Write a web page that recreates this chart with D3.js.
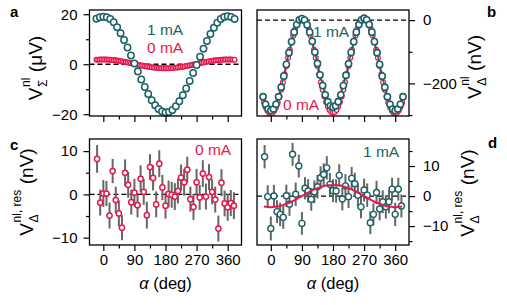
<!DOCTYPE html>
<html>
<head>
<meta charset="utf-8">
<script src="https://cdn.jsdelivr.net/npm/d3@7"></script>
<style>
body { margin: 0; background: #fff; }
text { font-family: "Liberation Sans", Arial, sans-serif; }
</style>
</head>
<body>
<svg id="canvas" width="507" height="305"></svg>
<script>
var teal = '#1b6167', red = '#e8184c', grey = '#666666';

// measurement angle grids (deg)
var angA1 = d3.range(-20, 381, 10);
var angA0 = d3.range(-20, 381, 5);
var angB1 = d3.range(-22.5, 383, 7.5);
var angB0 = d3.range(-20, 381, 5);
var angRes = d3.range(-18, 379, 9);
var angFit = d3.range(-20, 381, 10);

// a: V_sigma (uV)
var sigma1mA = [18.2, 18.8, 19.0, 18.8, 18.1, 16.8, 14.8, 12.4, 9.7, 6.7, 3.5, 0.3, -2.9, -6.1, -9.1, -11.9, -14.4, -16.4, -17.9, -18.9, -19.3,
    -19.1, -18.3, -16.8, -14.8, -12.4, -9.7, -6.7, -3.5, -0.3, 3.0, 6.2, 9.3, 12.1, 14.6, 16.6, 18.1, 18.9, 19.2, 18.9, 18.1];
var sigma0mA = [1.8, 1.85, 1.9, 1.9, 1.92, 1.9, 1.88, 1.84, 1.78, 1.72, 1.66, 1.58, 1.48, 1.38, 1.27, 1.14, 1.02, 0.88, 0.74, 0.6,
    0.45, 0.3, 0.14, 0.0, -0.15, -0.3, -0.45, -0.58, -0.72, -0.85, -0.97, -1.08, -1.18, -1.28, -1.36, -1.43, -1.49, -1.54, -1.57, -1.59, -1.6,
    -1.59, -1.57, -1.54, -1.49, -1.43, -1.36, -1.28, -1.18, -1.08, -0.97, -0.85, -0.72, -0.58, -0.45, -0.3, -0.15, 0.0, 0.14, 0.3,
    0.45, 0.6, 0.74, 0.88, 1.02, 1.14, 1.27, 1.38, 1.48, 1.58, 1.66, 1.72, 1.78, 1.84, 1.88, 1.9, 1.92, 1.9, 1.88, 1.84, 1.8];

// b: V_delta (nV)
var delta1mA = [-242, -266, -281, -286, -281, -266, -242, -212, -177, -140, -103, -68, -38, -14, 1, 5,
    0, -15, -38, -67, -101, -137, -173, -207, -236, -258, -271, -275,
    -271, -258, -236, -207, -174, -138, -102, -68, -38, -14, 1, 6,
    1, -14, -38, -68, -103, -140, -177, -212, -242, -266, -281, -286,
    -281, -266, -242];
var delta0mA = [-260, -275, -286, -293, -295, -293, -286, -275, -260, -241, -220, -196, -171, -145, -119, -94, -70, -49, -30, -15, -4, 3, 5,
    3, -4, -15, -30, -49, -70, -94, -119, -145, -171, -196, -220, -241, -259, -273, -284, -290, -292,
    -290, -284, -273, -259, -241, -220, -196, -171, -145, -119, -94, -70, -49, -30, -15, -4, 3, 5,
    3, -4, -15, -30, -49, -70, -94, -119, -145, -171, -196, -220, -241, -260, -275, -286, -293, -295,
    -293, -286, -275, -260];

// c: residual 0 mA (nV)
var res0mA = [8.2, -1.9, 0.2, 0.2, -4.9, 5.4, -1.3, -4.4, -7.7, 5.0, 2.2, -1.8, 0.4, -2.5, 3.6, 0.6, -4.8, 6.3, 3.8, -2.3,
    7.1, 1.6, -2.6, 0.1, -0.1, -0.5, 0.8, 3.9, 2.8, 5.7, -1.1, -2.9, 2.8, -0.7, 4.8, -0.5, 4.0, 0.6, -1.2, -7.9,
    2.7, -2.1, -3.0, -2.0, -2.6];
var err0mA = [3.2, 3.0, 3.1, 2.9, 3.0, 2.8, 3.1, 3.0, 2.9, 3.1, 3.0, 2.9, 3.2, 2.8, 3.1, 3.0, 3.1, 3.0, 2.9, 3.0,
    3.1, 2.9, 3.0, 3.1, 3.0, 3.1, 2.9, 3.0, 3.1, 3.0, 2.9, 3.0, 3.1, 2.9, 3.1, 3.0, 3.0, 2.9, 3.0, 3.0,
    3.1, 3.0, 3.1, 3.0, 3.1];

// d: residual 1 mA (nV) + fit
var res1mA = [13.1, -0.2, -10.8, 0.0, -5.2, -6.1, -7.1, 0.1, -2.7, 13.9, 0.6, 10.0, -9.1, 2.6, 1.7, -1.1, 1.4, 3.1, 6.1, 7.2,
    9.4, 3.9, 1.8, 1.7, 6.9, -1.0, 3.4, -0.2, 5.9, 4.1, 0.3, -3.6, 2.0, 0.3, -8.9, -6.1, 1.2, -4.3, -1.9, -3.6,
    -1.9, 2.3, -6.1, 2.3, -3.3];
var err1mA = [3.9, 3.8, 4.0, 3.7, 3.8, 3.9, 3.8, 3.7, 3.9, 3.8, 3.9, 3.8, 3.8, 3.7, 3.9, 3.8, 3.8, 3.9, 3.8, 3.7,
    3.9, 3.8, 3.8, 3.9, 3.7, 3.8, 3.9, 3.8, 3.8, 3.7, 3.9, 3.8, 3.8, 3.9, 3.8, 3.7, 3.9, 3.8, 3.8, 3.9,
    3.8, 3.8, 3.9, 3.8, 3.8];
var fit1mA = [-3.5, -3.6, -3.7, -3.6, -3.5, -3.2, -2.8, -2.4, -1.9, -1.3, -0.6, 0.0, 0.6, 1.3, 1.9, 2.4, 2.8, 3.2, 3.5, 3.6, 3.7,
    3.6, 3.5, 3.2, 2.8, 2.4, 1.9, 1.3, 0.6, 0.0, -0.6, -1.3, -1.9, -2.4, -2.8, -3.2, -3.5, -3.6, -3.7, -3.6, -3.5];

var xMajor = [0, 90, 180, 270, 360];
var xMinor = [45, 135, 225, 315];

var svg = d3.select('#canvas');
var W = 152, H = 106;

function panel(left, top, ydom) {
    var g = svg.append('g').attr('transform', 'translate(' + left + ',' + top + ')');
    return {
        g: g,
        x: d3.scaleLinear().domain([-40, 400]).range([0, W]),
        y: d3.scaleLinear().domain(ydom).range([H, 0])
    };
}

function styleAxis(sel) {
    sel.select('.domain').remove();
    sel.selectAll('line').attr('stroke', '#000').attr('stroke-width', 1.2);
    sel.selectAll('text').attr('font-size', '15px').attr('fill', '#000')
        .attr('font-family', '"Liberation Sans", Arial, sans-serif');
}

function axes(p, showX, side, yMajor, yMinor) {
    p.g.append('g').attr('transform', 'translate(0,' + H + ')')
        .call(d3.axisBottom(p.x).tickValues(xMajor).tickSize(6).tickPadding(3)
            .tickFormat(showX ? d3.format('d') : ''))
        .call(styleAxis);
    p.g.append('g').attr('transform', 'translate(0,' + H + ')')
        .call(d3.axisBottom(p.x).tickValues(xMinor).tickSize(3.5).tickFormat(''))
        .call(styleAxis);
    var ax = side == 'left' ? d3.axisLeft : d3.axisRight;
    var tx = side == 'left' ? 0 : W;
    p.g.append('g').attr('transform', 'translate(' + tx + ',0)')
        .call(ax(p.y).tickValues(yMajor).tickSize(6).tickPadding(side == 'left' ? 6 : 8).tickFormat(d3.format('d')))
        .call(styleAxis);
    p.g.append('g').attr('transform', 'translate(' + tx + ',0)')
        .call(ax(p.y).tickValues(yMinor).tickSize(3.5).tickFormat(''))
        .call(styleAxis);
    p.g.append('rect').attr('width', W).attr('height', H)
        .attr('fill', 'none').attr('stroke', '#000').attr('stroke-width', 1.3);
}

function zeroLine(p) {
    p.g.append('line')
        .attr('x1', 0).attr('x2', W)
        .attr('y1', p.y(0)).attr('y2', p.y(0))
        .attr('stroke', '#000').attr('stroke-width', 1.3)
        .attr('stroke-dasharray', '5,3');
}

function dots(p, ang, vals, color, r, sw) {
    p.g.append('g').selectAll('circle')
        .data(vals)
        .enter()
        .append('circle')
        .attr('cx', function(d, i) { return p.x(ang[i]); })
        .attr('cy', function(d) { return p.y(d); })
        .attr('r', r)
        .attr('fill', '#fff')
        .attr('stroke', color)
        .attr('stroke-width', sw);
}

function errBars(p, ang, vals, errs) {
    p.g.append('g').selectAll('line')
        .data(vals)
        .enter()
        .append('line')
        .attr('x1', function(d, i) { return p.x(ang[i]); })
        .attr('x2', function(d, i) { return p.x(ang[i]); })
        .attr('y1', function(d, i) { return p.y(d - errs[i]); })
        .attr('y2', function(d, i) { return p.y(d + errs[i]); })
        .attr('stroke', grey)
        .attr('stroke-width', 2);
}

function curve(p, ang, vals, color, sw, kind) {
    var line = d3.line()
        .x(function(d, i) { return p.x(ang[i]); })
        .y(function(d) { return p.y(d); })
        .curve(kind || d3.curveLinear);
    p.g.append('path').datum(vals)
        .attr('d', line)
        .attr('fill', 'none')
        .attr('stroke', color)
        .attr('stroke-width', sw);
}

function label(x, y, txt, color, size, weight) {
    svg.append('text').attr('x', x).attr('y', y)
        .attr('fill', color).attr('font-size', size + 'px')
        .attr('font-weight', weight || 'normal')
        .text(txt);
}

function yLabel(x, y, sup, sub, unit) {
    var g = svg.append('g').attr('transform', 'translate(' + x + ',' + y + ') rotate(-90)');
    var inner = g.append('g');
    var v = inner.append('text').attr('font-size', '19px').text('V');
    var wv = v.node().getComputedTextLength();
    var s1 = inner.append('text').attr('x', wv + 0.5).attr('y', -12.5).attr('font-size', '12px').text(sup);
    var s2 = inner.append('text').attr('x', wv + 0.5).attr('y', 4.5).attr('font-size', '12px').text(sub);
    var ws = Math.max(s1.node().getComputedTextLength(), s2.node().getComputedTextLength());
    var u = inner.append('text').attr('x', wv + ws + 6).attr('font-size', '19px').text(unit);
    var total = wv + ws + 6 + u.node().getComputedTextLength();
    inner.attr('transform', 'translate(' + (-total / 2) + ',0)');
}

function xLabel(cx, y) {
    var t = svg.append('text').attr('x', cx).attr('y', y)
        .attr('text-anchor', 'middle').attr('font-size', '16.5px');
    t.append('tspan').attr('font-style', 'italic').text('α');
    t.append('tspan').text(' (deg)');
}

// panel a
var pa = panel(89.5, 10, [-20.7, 21.7]);
zeroLine(pa);
dots(pa, angA0, sigma0mA, red, 2.3, 1.3);
dots(pa, angA1, sigma1mA, teal, 3.2, 1.5);
axes(pa, false, 'left', [-20, 0, 20], [-10, 10]);

// panel b
var pb = panel(257, 10, [-303, 32]);
zeroLine(pb);
curve(pb, angB0, delta0mA, red, 1.8);
dots(pb, angB0, delta0mA, red, 2.4, 1.2);
curve(pb, angB1, delta1mA, teal, 1.5);
dots(pb, angB1, delta1mA, teal, 3.1, 1.6);
axes(pb, false, 'right', [-200, 0], [-300, -100]);

// panel c
var pc = panel(89.5, 139, [-11.7, 12.8]);
zeroLine(pc);
errBars(pc, angRes, res0mA, err0mA);
dots(pc, angRes, res0mA, red, 2.6, 1.5);
axes(pc, true, 'left', [-10, 0, 10], [-5, 5]);

// panel d
var pd = panel(257, 139, [-16.3, 19]);
zeroLine(pd);
errBars(pd, angRes, res1mA, err1mA);
dots(pd, angRes, res1mA, teal, 3.0, 1.4);
curve(pd, angFit, fit1mA, red, 2, d3.curveMonotoneX);
axes(pd, true, 'right', [-10, 0, 10], [-15, -5, 5, 15]);

// texts
label(147, 35, '1 mA', teal, 15.5);
label(147, 53, '0 mA', red, 15.5);
label(313, 37, '1 mA', teal, 15.5);
label(283, 110, '0 mA', red, 15.5);
label(195, 155, '0 mA', red, 15.5);
label(363, 157, '1 mA', teal, 15.5);

label(10, 17, 'a', '#000', 15, 'bold');
label(487, 17, 'b', '#000', 15, 'bold');
label(10, 150, 'c', '#000', 15, 'bold');
label(488, 148, 'd', '#000', 15, 'bold');

yLabel(42, 68, 'nl', 'Σ', '(μV)');
yLabel(481, 67, 'nl', 'Δ', '(nV)');
yLabel(33, 192, 'nl, res', 'Δ', '(nV)');
yLabel(474, 193, 'nl, res', 'Δ', '(nV)');

xLabel(165.5, 289);
xLabel(333, 289);
</script>
</body>
</html>
